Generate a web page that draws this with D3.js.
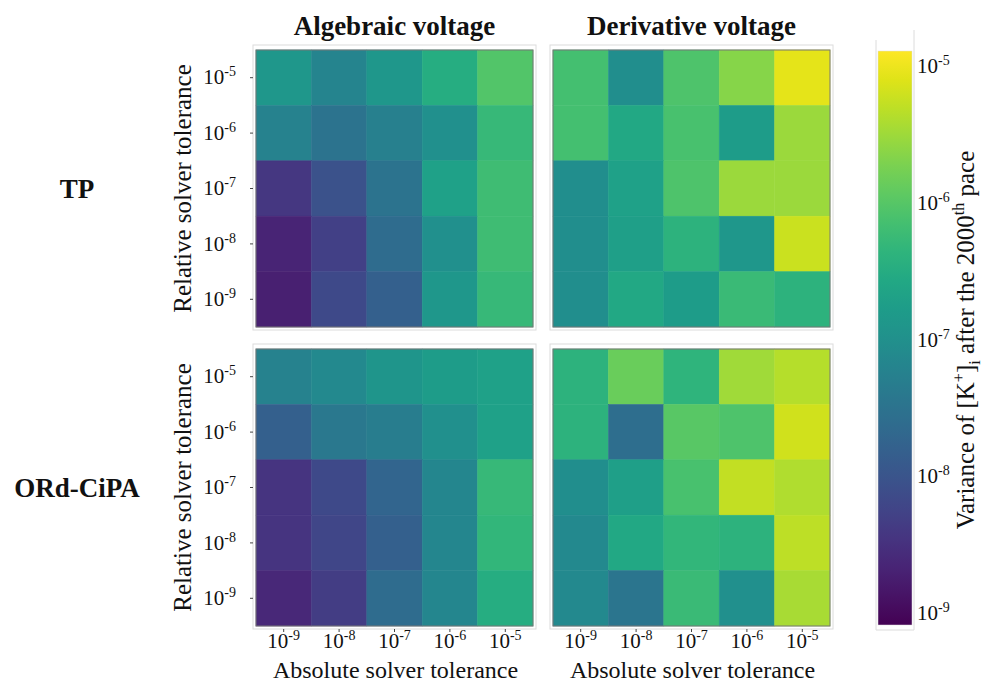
<!DOCTYPE html>
<meta charset="utf-8">
<style>
body { margin: 0; background: #fff; }
text { font-family: "Liberation Serif", "Times New Roman", serif; fill: #111; }
.tick line { stroke: #444; }
</style>
<body>
<script src="https://d3js.org/d3.v7.min.js"></script>
<script>

// tolerance exponents
var absTol = [-9, -8, -7, -6, -5];      // columns, left to right
var relTol = [-5, -6, -7, -8, -9];      // rows, top to bottom

var colTitles = ["Algebraic voltage", "Derivative voltage"];
var rowTitles = ["TP", "ORd-CiPA"];

// variance of [K+]i, rows = relative tol (1e-5 .. 1e-9), cols = absolute tol (1e-9 .. 1e-5)
var tpAlgebraic = [
    [1.37e-7, 6.3e-8, 1.37e-7, 3.27e-7, 9.5e-7],
    [5.7e-8, 3.2e-8, 5.2e-8, 1.02e-7, 5.3e-7],
    [3.8e-9, 9.1e-9, 3.2e-8, 2.0e-7, 6.4e-7],
    [2.1e-9, 5.1e-9, 2.4e-8, 1.02e-7, 6.4e-7],
    [1.9e-9, 6.8e-9, 1.5e-8, 1.37e-7, 5.3e-7]
];
var tpDerivative = [
    [7.1e-7, 9.3e-8, 8.6e-7, 2.26e-6, 8.7e-6],
    [7.1e-7, 2.7e-7, 7.8e-7, 1.66e-7, 3.0e-6],
    [9.3e-8, 2.0e-7, 8.6e-7, 3.0e-6, 3.0e-6],
    [9.3e-8, 1.83e-7, 4.0e-7, 1.37e-7, 5.9e-6],
    [9.3e-8, 2.7e-7, 1.66e-7, 5.8e-7, 4.0e-7]
];
var ordAlgebraic = [
    [5.7e-8, 7.7e-8, 1.24e-7, 1.66e-7, 2.0e-7],
    [1.5e-8, 3.9e-8, 4.7e-8, 1.02e-7, 2.0e-7],
    [3.5e-9, 6.8e-9, 1.8e-8, 7.0e-8, 5.3e-7],
    [3.5e-9, 6.2e-9, 1.5e-8, 7.0e-8, 4.8e-7],
    [2.4e-9, 4.6e-9, 2.4e-8, 7.0e-8, 3.27e-7]
];
var ordDerivative = [
    [4.0e-7, 1.39e-6, 4.4e-7, 3.3e-6, 4.4e-6],
    [4.0e-7, 2.6e-8, 1.04e-6, 8.6e-7, 6.5e-6],
    [9.3e-8, 1.83e-7, 7.8e-7, 5.4e-6, 4.0e-6],
    [7.7e-8, 2.7e-7, 4.8e-7, 4.0e-7, 4.9e-6],
    [7.7e-8, 3.5e-8, 5.8e-7, 1.02e-7, 3.7e-6]
];

var colorTicks = [1e-9, 1e-8, 1e-7, 1e-6, 1e-5];
var colorDomain = [8.1e-10, 1.29e-5];

var width = 987, height = 684;
var size = 277;
var panelX = [256, 553], panelY = [50, 349];

var svg = d3.select("body").append("svg")
    .attr("width", width)
    .attr("height", height);

var color = d3.scaleSequentialLog(d3.interpolateViridis).domain(colorDomain);

var x = d3.scaleBand().domain(absTol).range([0, size]);
var y = d3.scaleBand().domain(relTol).range([0, size]);

// write "10^e" with a superscript into a text node
function powerLabel(sel, e) {
    sel.text(null)
        .attr("font-size", null).attr("font-family", null)
        .style("font-size", "21px");
    sel.append("tspan").text("10");
    sel.append("tspan").attr("dy", -8).style("font-size", "14px").text(e);
}

var panels = [
    {data: tpAlgebraic, r: 0, c: 0},
    {data: tpDerivative, r: 0, c: 1},
    {data: ordAlgebraic, r: 1, c: 0},
    {data: ordDerivative, r: 1, c: 1}
];

panels.forEach(function(p) {
    var g = svg.append("g")
        .attr("transform", "translate(" + panelX[p.c] + "," + panelY[p.r] + ")");

    // light frame around the plot area
    g.append("rect")
        .attr("x", -3).attr("y", -5)
        .attr("width", size + 6).attr("height", size + 8)
        .attr("fill", "none")
        .attr("stroke", "#dcdcdc");

    var cells = [];
    p.data.forEach(function(row, i) {
        row.forEach(function(v, j) {
            cells.push({rel: relTol[i], abs: absTol[j], v: v});
        });
    });

    g.selectAll("rect.cell")
        .data(cells)
        .enter().append("rect")
        .attr("class", "cell")
        .attr("x", function(d) { return x(d.abs); })
        .attr("y", function(d) { return y(d.rel); })
        .attr("width", x.bandwidth())
        .attr("height", y.bandwidth())
        .attr("fill", function(d) { return color(d.v); })
        .attr("stroke", function(d) { return color(d.v); })
        .attr("stroke-width", 0.5);

    g.append("rect")
        .attr("width", size).attr("height", size)
        .attr("fill", "none")
        .attr("stroke", "#777")
        .attr("stroke-width", 1);

    if (p.c == 0) {
        var ya = g.append("g")
            .attr("transform", "translate(-3,0)")
            .call(d3.axisLeft(y).tickSize(3).tickPadding(14));
        ya.select(".domain").remove();
        ya.selectAll("text")
            .each(function(d) { powerLabel(d3.select(this), d); });

        g.append("text")
            .style("font-size", "25px")
            .attr("transform", "translate(-65," + (size / 2) + ") rotate(-90)")
            .attr("text-anchor", "middle")
            .text("Relative solver tolerance");
    }

    if (p.r == 1) {
        var xa = g.append("g")
            .attr("transform", "translate(0," + (size + 3) + ")")
            .call(d3.axisBottom(x).tickSize(3).tickPadding(1));
        xa.select(".domain").remove();
        xa.selectAll("text")
            .attr("dy", "0.71em")
            .each(function(d) { powerLabel(d3.select(this), d); });

        g.append("text")
            .style("font-size", "24px")
            .attr("x", size / 2 + 1)
            .attr("y", size + 52)
            .attr("text-anchor", "middle")
            .text("Absolute solver tolerance");
    }
});

// column titles
colTitles.forEach(function(t, c) {
    svg.append("text")
        .style("font-size", "27px").style("font-weight", "bold")
        .attr("x", panelX[c] + size / 2)
        .attr("y", 35)
        .attr("text-anchor", "middle")
        .text(t);
});

// row titles
rowTitles.forEach(function(t, r) {
    svg.append("text")
        .style("font-size", "27px").style("font-weight", "bold")
        .attr("x", 77)
        .attr("y", panelY[r] + size / 2 + 9)
        .attr("text-anchor", "middle")
        .text(t);
});

// colour bar
var cb = {x: 878, w: 34, top: 51, bottom: 625};
var cy = d3.scaleLog().domain(colorDomain).range([cb.bottom, cb.top]);

var grad = svg.append("defs").append("linearGradient")
    .attr("id", "viridis")
    .attr("x1", "0").attr("y1", "1").attr("x2", "0").attr("y2", "0");
d3.range(0, 1.0001, 0.05).forEach(function(t) {
    grad.append("stop")
        .attr("offset", t)
        .attr("stop-color", d3.interpolateViridis(t));
});

svg.append("path")
    .attr("d", "M" + (cb.x - 2) + "," + 40 + "V" + (cb.bottom + 5) + "H" + (cb.x + cb.w + 2) + "V" + 30)
    .attr("fill", "none")
    .attr("stroke", "#dcdcdc");

svg.append("rect")
    .attr("x", cb.x).attr("y", cb.top)
    .attr("width", cb.w).attr("height", cb.bottom - cb.top)
    .attr("fill", "url(#viridis)")
    .attr("stroke", "#ddd")
    .attr("stroke-width", 0.5);

var ca = svg.append("g")
    .attr("transform", "translate(" + (cb.x + cb.w) + ",0)")
    .call(d3.axisRight(cy).tickValues(colorTicks).tickSize(0).tickPadding(5));
ca.select(".domain").remove();
ca.selectAll("text")
    .each(function(d) { powerLabel(d3.select(this), Math.round(Math.log10(d))); });

// colour bar title
var ct = svg.append("text")
    .style("font-size", "25px")
    .attr("transform", "translate(974," + ((cb.top + cb.bottom) / 2 + 2) + ") rotate(-90)")
    .attr("text-anchor", "middle");
ct.append("tspan").text("Variance of [K");
ct.append("tspan").attr("dy", -10).style("font-size", "16px").text("+");
ct.append("tspan").attr("dy", 10).text("]");
ct.append("tspan").attr("dy", 6).style("font-size", "16px").text("i");
ct.append("tspan").attr("dy", -6).text(" after the 2000");
ct.append("tspan").attr("dy", -10).style("font-size", "16px").text("th");
ct.append("tspan").attr("dy", 10).text(" pace");

</script>
</body>
